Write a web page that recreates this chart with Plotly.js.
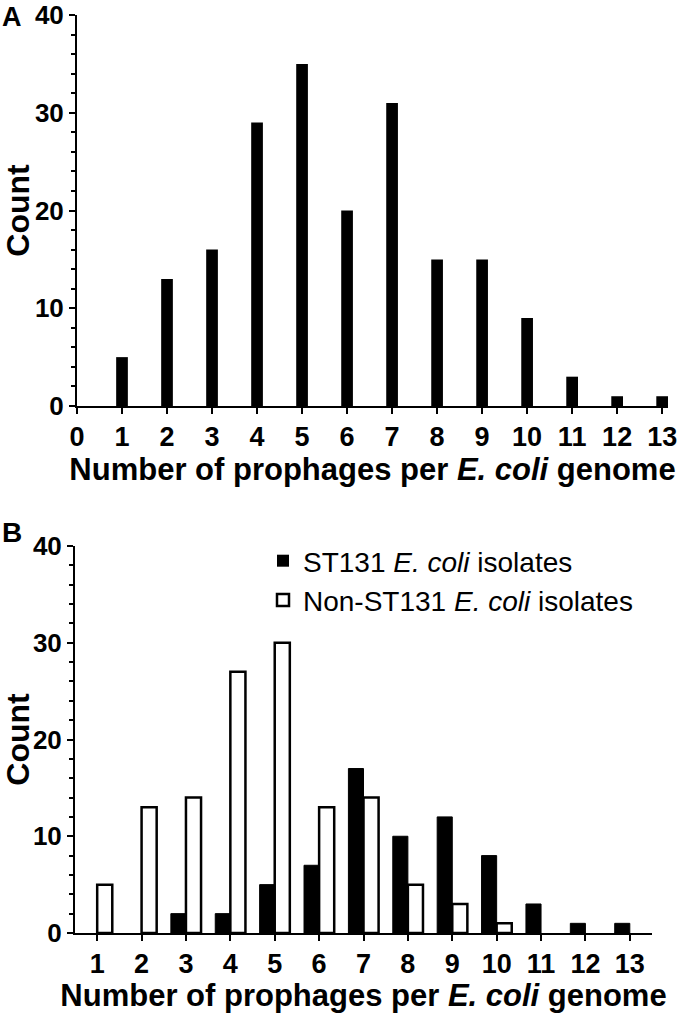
<!DOCTYPE html>
<html>
<head>
<meta charset="utf-8">
<script src="https://cdn.plot.ly/plotly-3.0.1.min.js"></script>
<style>
html,body{margin:0;padding:0;background:#fff;}
#chart{width:680px;height:1013px;}
</style>
</head>
<body>
<div id="chart"></div>
<script>
// Panel A: all isolates
var prophageCountsA = [1,2,3,4,5,6,7,8,9,10,11,12,13];
var isolateCountsA  = [5,13,16,29,35,20,31,15,15,9,3,1,1];
var xTicksA = [0,1,2,3,4,5,6,7,8,9,10,11,12,13];

// Panel B: ST131 vs non-ST131
var prophageCountsB = [1,2,3,4,5,6,7,8,9,10,11,12,13];
var st131Counts     = [0,0,2,2,5,7,17,10,12,8,3,1,1];
var nonSt131Counts  = [5,13,14,27,30,13,14,5,3,1,0,0,0];
var xTicksB = [1,2,3,4,5,6,7,8,9,10,11,12,13];

var seriesNames = ['ST131 <i>E. coli</i> isolates', 'Non-ST131 <i>E. coli</i> isolates'];
var axisTitleX = 'Number of prophages per <i>E. coli</i> genome';
var axisTitleY = 'Count';

var FONT = 'Liberation Sans, Arial, Helvetica, sans-serif';

// hide outlines of empty (zero-height) bars
function outlineWidths(vals, w){ return vals.map(function(v){ return v > 0 ? w : 0; }); }

var traces = [
  {type:'bar', x:prophageCountsA, y:isolateCountsA, width:0.26,
   marker:{color:'#000'}, xaxis:'x', yaxis:'y', showlegend:false, hoverinfo:'x+y'},
  {type:'bar', x:prophageCountsB, y:st131Counts, name:seriesNames[0],
   offset:-0.34, width:0.34,
   marker:{color:'#000', line:{color:'#000', width:outlineWidths(st131Counts, 1)}}, xaxis:'x2', yaxis:'y2'},
  {type:'bar', x:prophageCountsB, y:nonSt131Counts, name:seriesNames[1],
   offset:0, width:0.34,
   marker:{color:'#fff', line:{color:'#000', width:outlineWidths(nonSt131Counts, 2.5)}}, xaxis:'x2', yaxis:'y2'}
];

function xAxis(domain, range, ticks, anchor, standoff){
  return {
    domain:domain, range:range, anchor:anchor,
    tickmode:'array', tickvals:ticks, ticktext:ticks.map(String),
    showline:true, linecolor:'#000', linewidth:2, mirror:false,
    ticks:'outside', ticklen:6, tickwidth:2, tickcolor:'#000',
    showgrid:false, zeroline:false,
    tickfont:{family:FONT, size:27, color:'#000', weight:'bold'},
    title:{text:axisTitleX, standoff:standoff, font:{family:FONT, size:31, color:'#000', weight:'bold'}},
    fixedrange:true
  };
}
function yAxis(domain, anchor){
  return {
    domain:domain, range:[0,40], anchor:anchor,
    tickmode:'linear', tick0:0, dtick:10,
    showline:true, linecolor:'#000', linewidth:2,
    ticks:'outside', ticklen:6, tickwidth:2, tickcolor:'#000',
    minor:{dtick:2, ticks:'outside', ticklen:4, tickwidth:2, tickcolor:'#000', showgrid:false},
    showgrid:false, zeroline:false,
    tickfont:{family:FONT, size:26, color:'#000', weight:'bold'},
    title:{text:axisTitleY, standoff:5, font:{family:FONT, size:32, color:'#000', weight:'bold'}},
    fixedrange:true
  };
}

var layout = {
  width:680, height:1013,
  margin:{l:0, r:0, t:0, b:0},
  paper_bgcolor:'#fff', plot_bgcolor:'#fff',
  barmode:'overlay',
  font:{family:FONT, color:'#000'},
  xaxis: xAxis([77/680, 668/680], [0, 13.13], xTicksA, 'y', 6),
  yaxis: yAxis([(1013-406)/1013, (1013-15)/1013], 'x'),
  xaxis2: xAxis([75/680, 652/680], [0.5, 13.5], xTicksB, 'y2', 3),
  yaxis2: yAxis([(1013-933)/1013, (1013-546)/1013], 'x2'),
  showlegend:true,
  legend:{x:263/680, xanchor:'left', y:(1013-536)/1013, yanchor:'top',
          bgcolor:'rgba(0,0,0,0)', borderwidth:0,
          font:{family:FONT, size:28, color:'#000'}, traceorder:'normal', tracegroupgap:0},
  annotations:[
    {text:'<b>A</b>', xref:'paper', yref:'paper', x:0, y:1, xanchor:'left', yanchor:'top',
     showarrow:false, font:{family:FONT, size:27, color:'#000'}},
    {text:'<b>B</b>', xref:'paper', yref:'paper', x:0, y:(1013-515)/1013, xanchor:'left', yanchor:'top',
     showarrow:false, font:{family:FONT, size:28, color:'#000'}}
  ]
};

Plotly.newPlot('chart', traces, layout, {displayModeBar:false, staticPlot:true});
</script>
</body>
</html>
